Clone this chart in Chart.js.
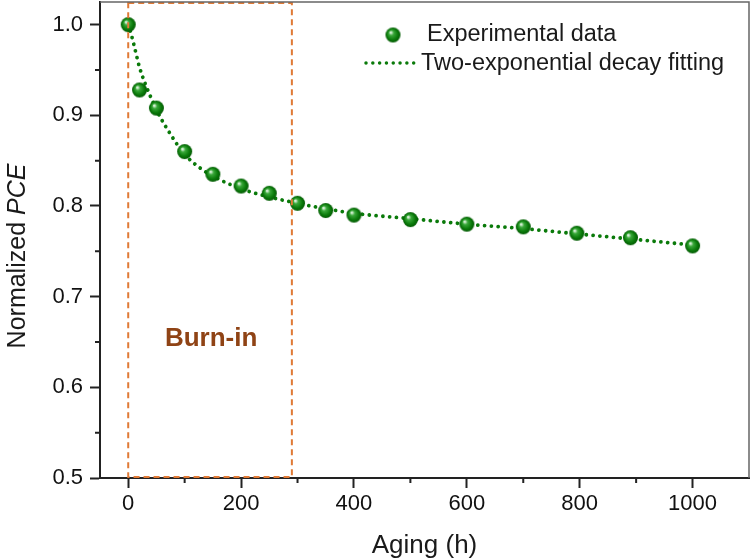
<!DOCTYPE html>
<html>
<head>
<meta charset="utf-8">
<script src="https://cdn.jsdelivr.net/npm/chart.js@4/dist/chart.umd.min.js"></script>
<style>
  html, body { margin: 0; padding: 0; background: #fff; }
  #wrap { width: 751px; height: 559px; }
</style>
</head>
<body>
<div id="wrap"><canvas id="agingChart" width="751" height="559"></canvas></div>
<script>
// measured stability data (aging hours vs normalized PCE)
const agingHours = [0, 20, 50, 100, 150, 200, 250, 300, 350, 400, 500, 600, 700, 795, 890, 1000];
const normPce = [1.0, 0.928, 0.908, 0.860, 0.835, 0.822, 0.814, 0.803, 0.795, 0.790, 0.785, 0.780, 0.777, 0.770, 0.765, 0.756];

// two-exponential decay fit, sampled along the curve
const fitHours = [0, 5, 10, 20, 30, 40, 50, 75, 100, 125, 150, 200, 250, 300, 350, 400, 500, 600, 700, 800, 900, 1000];
const fitPce = [1.0, 0.99, 0.978, 0.953, 0.935, 0.92, 0.906, 0.879, 0.857, 0.843, 0.833, 0.819, 0.810, 0.803, 0.797, 0.792, 0.786, 0.780, 0.775, 0.769, 0.763, 0.757];

const xTicks = [0, 200, 400, 600, 800, 1000];
const xMinorTicks = [100, 300, 500, 700, 900];
const yTicks = [0.5, 0.6, 0.7, 0.8, 0.9, 1.0];
const yMinorTicks = [0.55, 0.65, 0.75, 0.85, 0.95];
const burnInHours = [0, 290];

const FONT = '"Liberation Sans", Arial, sans-serif';
const GREEN = '#0a7a0a';

// shaded ball used as the marker
function makeBall(r) {
  const c = document.createElement('canvas');
  c.width = c.height = Math.ceil(2 * r + 2);
  const g = c.getContext('2d');
  const cx = c.width / 2, cy = c.height / 2;
  const grad = g.createRadialGradient(cx - r * 0.3, cy - r * 0.35, r * 0.1, cx, cy, r);
  grad.addColorStop(0, '#d8f0d8');
  grad.addColorStop(0.25, '#3aa83a');
  grad.addColorStop(0.7, '#0a7a0a');
  grad.addColorStop(1, '#045a04');
  g.fillStyle = grad;
  g.beginPath();
  g.arc(cx, cy, r, 0, Math.PI * 2);
  g.fill();
  return c;
}
const ball = makeBall(7.5);

const decor = {
  id: 'decor',
  afterDatasetsDraw(chart) {
    const { ctx, chartArea: a, scales: { x, y } } = chart;
    const x0 = x.getPixelForValue(burnInHours[0]);
    const x1 = x.getPixelForValue(burnInHours[1]);
    const yb = y.getPixelForValue(0.5) - 1;
    ctx.save();
    ctx.strokeStyle = '#e07a36';
    ctx.lineWidth = 2;
    ctx.setLineDash([6, 4]);
    ctx.strokeRect(x0, a.top + 1, x1 - x0, yb - a.top - 1);
    ctx.setLineDash([]);
    ctx.fillStyle = '#8f4315';
    ctx.font = 'bold 26px ' + FONT;
    ctx.textAlign = 'center';
    ctx.textBaseline = 'middle';
    ctx.fillText('Burn-in', x.getPixelForValue(147), y.getPixelForValue(0.654));
    ctx.restore();
  },
  afterDraw(chart) {
    const { ctx, chartArea: a, scales: { x, y } } = chart;
    ctx.save();
    // top / right frame
    ctx.strokeStyle = '#666';
    ctx.lineWidth = 1.5;
    ctx.beginPath();
    ctx.moveTo(a.left, a.top);
    ctx.lineTo(a.right, a.top);
    ctx.lineTo(a.right, a.bottom);
    ctx.stroke();
    // minor ticks
    ctx.strokeStyle = '#222';
    ctx.lineWidth = 2;
    ctx.beginPath();
    xMinorTicks.forEach(v => {
      const px = x.getPixelForValue(v);
      ctx.moveTo(px, a.bottom);
      ctx.lineTo(px, a.bottom + 5);
    });
    yMinorTicks.forEach(v => {
      const py = y.getPixelForValue(v);
      ctx.moveTo(a.left, py);
      ctx.lineTo(a.left - 5, py);
    });
    ctx.stroke();

    // axis titles
    ctx.fillStyle = '#1a1a1a';
    ctx.textBaseline = 'alphabetic';
    ctx.font = '26px ' + FONT;
    ctx.textAlign = 'center';
    ctx.fillText('Aging (h)', (a.left + a.right) / 2, 553);

    ctx.save();
    ctx.translate(25, 256);
    ctx.rotate(-Math.PI / 2);
    ctx.font = '25px ' + FONT;
    const w1 = ctx.measureText('Normalized ').width;
    ctx.font = 'italic 25px ' + FONT;
    const w2 = ctx.measureText('PCE').width;
    ctx.textAlign = 'left';
    ctx.font = '25px ' + FONT;
    ctx.fillText('Normalized ', -(w1 + w2) / 2, 0);
    ctx.font = 'italic 25px ' + FONT;
    ctx.fillText('PCE', -(w1 + w2) / 2 + w1, 0);
    ctx.restore();

    // legend
    ctx.drawImage(ball, 393 - ball.width / 2, 35 - ball.height / 2);
    ctx.strokeStyle = GREEN;
    ctx.lineWidth = 3.5;
    ctx.lineCap = 'round';
    ctx.setLineDash([0.01, 6.8]);
    ctx.beginPath();
    ctx.moveTo(366, 63);
    ctx.lineTo(416, 63);
    ctx.stroke();
    ctx.setLineDash([]);
    ctx.fillStyle = '#1a1a1a';
    ctx.font = '23.5px ' + FONT;
    ctx.textAlign = 'left';
    ctx.textBaseline = 'middle';
    ctx.fillText('Experimental data', 427, 35);
    ctx.fillText('Two-exponential decay fitting', 421, 64);
    ctx.restore();
  }
};

new Chart(document.getElementById('agingChart'), {
  type: 'scatter',
  data: {
    datasets: [
      {
        label: 'Two-exponential decay fitting',
        data: fitHours.map((h, i) => ({ x: h, y: fitPce[i] })),
        showLine: true,
        borderColor: GREEN,
        borderWidth: 3.8,
        borderDash: [0.01, 6.8],
        borderCapStyle: 'round',
        cubicInterpolationMode: 'monotone',
        pointRadius: 0,
        clip: false,
        order: 2
      },
      {
        label: 'Experimental data',
        data: agingHours.map((h, i) => ({ x: h, y: normPce[i] })),
        pointStyle: ball,
        pointRadius: 7.5,
        showLine: false,
        clip: false,
        order: 1
      }
    ]
  },
  options: {
    responsive: false,
    animation: false,
    devicePixelRatio: 1,
    layout: { autoPadding: false, padding: { top: 2, right: 2, left: 0, bottom: 0 } },
    plugins: { legend: { display: false }, tooltip: { enabled: false } },
    scales: {
      x: {
        type: 'linear',
        min: -50,
        max: 1100,
        afterBuildTicks: s => { s.ticks = xTicks.map(v => ({ value: v })); },
        afterFit: s => { s.height = 81; s.paddingLeft = 0; s.paddingRight = 0; },
        border: { color: '#222', width: 2 },
        grid: { drawOnChartArea: false, tickLength: 10, tickColor: '#222', tickWidth: 2 },
        ticks: { color: '#111', font: { family: FONT, size: 22 }, padding: 3, maxRotation: 0, callback: v => String(v) }
      },
      y: {
        type: 'linear',
        min: 0.5,
        max: 1.025,
        afterBuildTicks: s => { s.ticks = yTicks.map(v => ({ value: v })); },
        afterFit: s => { s.width = 100; s.paddingTop = 0; s.paddingBottom = 0; },
        border: { color: '#222', width: 2 },
        grid: { drawOnChartArea: false, tickLength: 10, tickColor: '#222', tickWidth: 2 },
        ticks: { color: '#111', font: { family: FONT, size: 22 }, padding: 7, callback: v => v.toFixed(1) }
      }
    }
  },
  plugins: [decor]
});
</script>
</body>
</html>
